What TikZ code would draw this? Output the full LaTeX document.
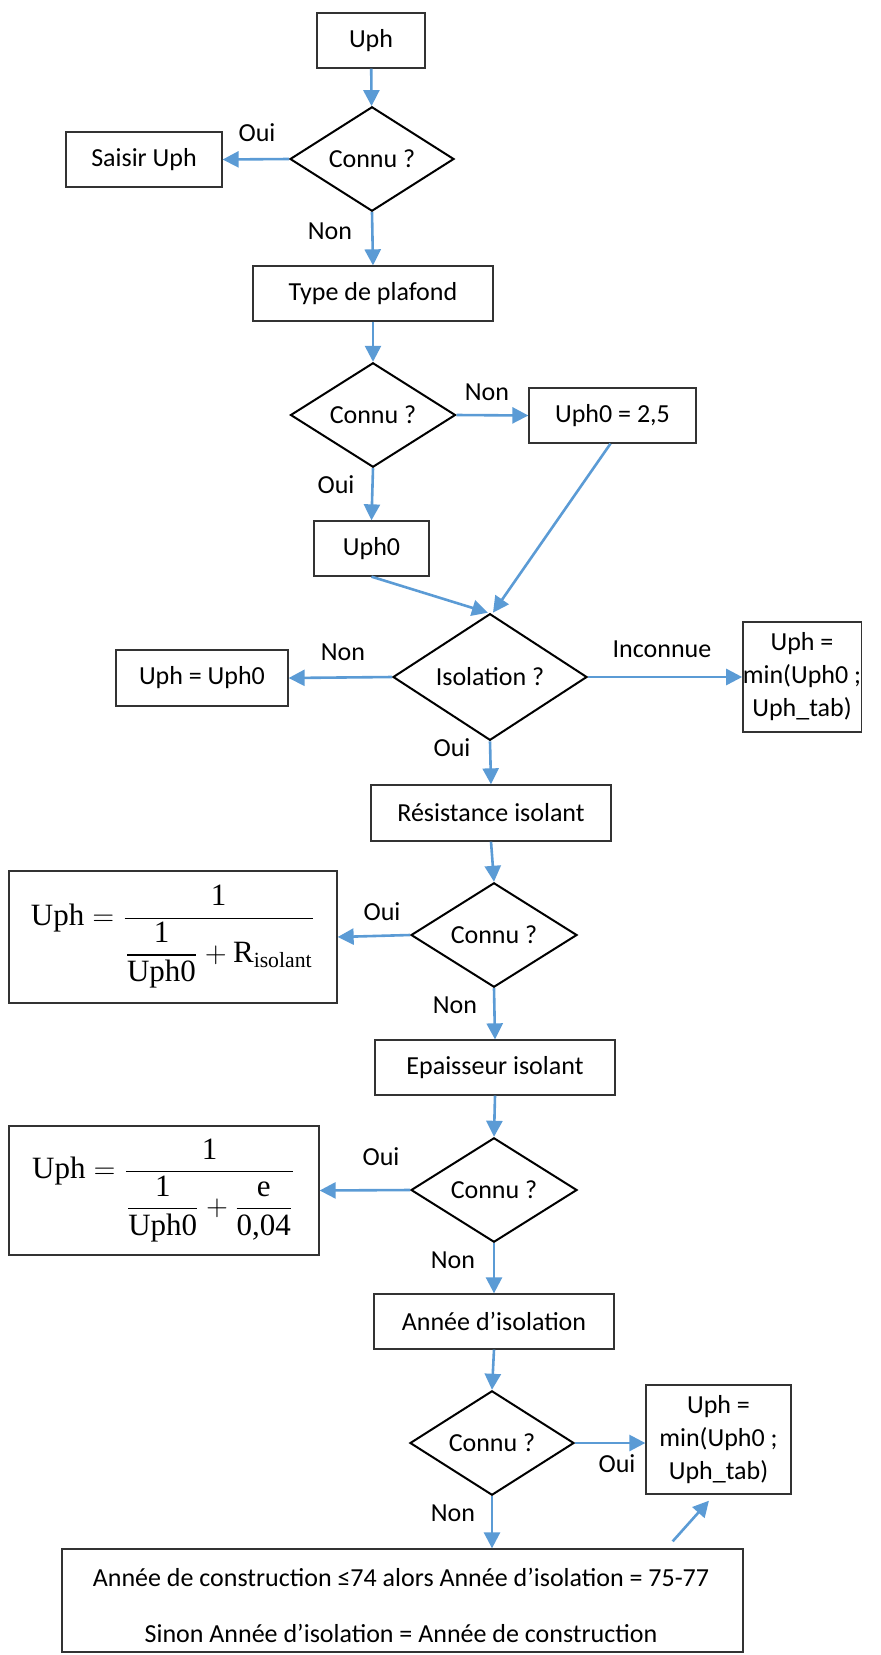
\documentclass[tikz,border=0pt]{standalone}
\usepackage{amsmath}
\usepackage[no-math]{fontspec}
\setmainfont{Carlito}
\newfontfamily\mserif{Liberation Serif}
\newcommand\mser[1]{\text{\mserif #1}}
\usetikzlibrary{shapes.geometric,arrows.meta}
\newdimen\pxu \pxu=0.5pt
\definecolor{arrowblue}{HTML}{5B9BD5}
\begin{document}
\begin{tikzpicture}[x=0.5pt,y=-0.5pt,
 every node/.style={font=\fontsize{13}{16.5}\selectfont},
 box/.style={draw=black!80,line width=0.65pt,inner sep=0pt,align=center},
 dia/.style={diamond,draw=black,line width=1pt,inner sep=0pt,minimum width=166\pxu,minimum height=96\pxu},
 arr/.style={draw=arrowblue,line width=1.3pt,-{Triangle[length=8pt,width=8pt]}},
 lbl/.style={inner sep=0pt},
 fml/.style={box,font=\fontsize{15.5}{19}\selectfont}]
\useasboundingbox (0,0) rectangle (880,1655);
% nodes
\node[box,minimum width=108\pxu,minimum height=55\pxu] (uph) at (371,40.5) {Uph};
\node[dia,minimum width=164\pxu,minimum height=97\pxu] (d1) at (372,159) {Connu ?};
\node[box,minimum width=156\pxu,minimum height=55\pxu] (saisir) at (144,159.5) {Saisir Uph};
\node[box,minimum width=240\pxu,minimum height=55\pxu] (type) at (373,293.5) {Type de plafond};
\node[dia,minimum width=165\pxu] (d2) at (373,415) {Connu ?};
\node[box,minimum width=167\pxu,minimum height=55\pxu] (u25) at (612.5,415.5) {Uph0 = 2,5};
\node[box,minimum width=115\pxu,minimum height=55\pxu] (uph0) at (371.5,548.5) {Uph0};
\node[dia,minimum width=194\pxu] (diso) at (490,677) {Isolation ?};
\node[box,minimum width=172\pxu,minimum height=56\pxu] (uu0) at (202,678) {Uph = Uph0};
\node[box,minimum width=116\pxu,minimum height=110\pxu] (min1) at (802,677) {Uph =\\min(Uph0 ;\\Uph\_tab)};
\node[box,minimum width=240\pxu,minimum height=56\pxu] (res) at (491,813) {Résistance isolant};
\node[dia] (d3) at (494,935) {Connu ?};
\node[fml,minimum width=328\pxu,minimum height=132\pxu] (f1) at (173,937)
 {$\displaystyle \mser{Uph}=\frac{\mser{1}}{\dfrac{\mser{1}}{\mser{Uph0}}+\mser{R}_{\mser{isolant}}}$};
\node[box,minimum width=240\pxu,minimum height=55\pxu] (ep) at (495,1067.5) {Epaisseur isolant};
\node[dia] (d4) at (494,1190) {Connu ?};
\node[fml,minimum width=310\pxu,minimum height=129\pxu] (f2) at (164,1190.5)
 {$\displaystyle \mser{Uph}=\frac{\mser{1}}{\dfrac{\mser{1}}{\mser{Uph0}}+\dfrac{\mser{e}}{\mser{0,04}}}$};
\node[box,minimum width=240\pxu,minimum height=55\pxu] (an) at (494,1321.5) {Année d’isolation};
\node[dia,minimum width=164\pxu] (d5) at (492,1443) {Connu ?};
\node[box,minimum width=145\pxu,minimum height=109\pxu] (min2) at (718.5,1439.5) {Uph =\\min(Uph0 ;\\Uph\_tab)};
\node[box,minimum width=681\pxu,minimum height=103\pxu] (bot) at (402.5,1600.5) {};
\node[lbl] (bt1) at (401,1577) {Année de construction ≤74 alors Année d’isolation = 75-77};
\node[lbl] (bt2) at (401,1633) {Sinon Année d’isolation = Année de construction};
% labels
\node[lbl] (l1) at (257,133) {Oui};
\node[lbl] (l2) at (330,231) {Non};
\node[lbl] (l3) at (487,392) {Non};
\node[lbl] (l4) at (336,485) {Oui};
\node[lbl] (l5) at (343,652) {Non};
\node[lbl] (l6) at (662,649) {Inconnue};
\node[lbl] (l7) at (452,748) {Oui};
\node[lbl] (l8) at (382,912) {Oui};
\node[lbl] (l9) at (455,1005) {Non};
\node[lbl] (l10) at (381,1157) {Oui};
\node[lbl] (l11) at (453,1260) {Non};
\node[lbl] (l12) at (617,1464) {Oui};
\node[lbl] (l13) at (453,1513) {Non};
% connectors
\draw[arr] (uph) -- (d1);
\draw[arr] (d1.west) -- (saisir.east);
\draw[arr] (d1.south) -- (type.north);
\draw[arr] (type.south) -- (d2.north);
\draw[arr] (d2.east) -- (u25.west);
\draw[arr] (d2.south) -- (uph0.north);
\draw[arr] (uph0.south) -- ([xshift=-2\pxu]diso.north);
\draw[arr] ([xshift=-2\pxu]u25.south) -- ([xshift=3\pxu]diso.north);
\draw[arr] (diso.west) -- (uu0.east);
\draw[arr] (diso.east) -- (min1.west);
\draw[arr] (diso.south) -- (res.north);
\draw[arr] (res.south) -- (d3.north);
\draw[arr] (d3.west) -- (f1.east);
\draw[arr] (d3.south) -- (ep.north);
\draw[arr] (ep.south) -- (d4.north);
\draw[arr] (d4.west) -- (f2.east);
\draw[arr] (d4.south) -- (an.north);
\draw[arr] (an.south) -- (d5.north);
\draw[arr] (d5.east) -- (d5.east -| min2.west);
\draw[arr] (d5.south) -- (bot.north -| d5.south);
\draw[arr] ([shift={(-71,-7)}]bot.north east) -- ([shift={(-9.5,6)}]min2.south);
\end{tikzpicture}
\end{document}
